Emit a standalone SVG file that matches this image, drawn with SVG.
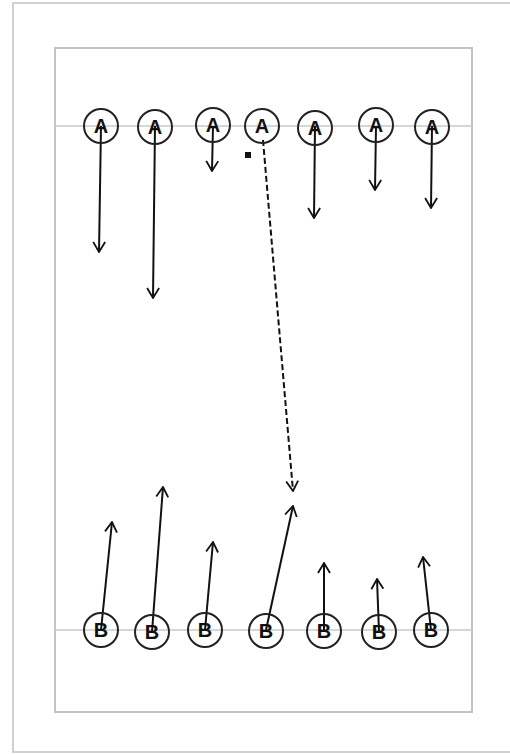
<svg xmlns="http://www.w3.org/2000/svg" width="510" height="754" viewBox="0 0 510 754">
<defs>
<style>
.frame{fill:none;stroke:#d0d0d0;stroke-width:2}
.field{fill:#fff;stroke:#c4c4c4;stroke-width:2}
.yard{stroke:#c8c8c8;stroke-width:1.5}
.node circle{fill:none;stroke:#222;stroke-width:2}
.node text{font-family:"Liberation Sans",Arial,sans-serif;font-size:20px;font-weight:bold;fill:#111;text-anchor:middle}
.route{fill:none;stroke:#111;stroke-width:2}
.dash{stroke-dasharray:6 3}
</style>
<marker id="v" viewBox="0 0 12 14" refX="11" refY="7" markerWidth="12" markerHeight="14" markerUnits="userSpaceOnUse" orient="auto">
<path d="M1,1 L11,7 L1,13" fill="none" stroke="#111" stroke-width="1.8"/>
</marker>
</defs>
<rect x="0" y="0" width="510" height="754" fill="#fff"/>
<rect class="frame" x="13" y="3" width="505" height="749"/>
<rect class="field" x="55" y="48" width="417" height="664"/>
<line class="yard" x1="55" y1="126" x2="472" y2="126"/>
<line class="yard" x1="55" y1="630" x2="472" y2="630"/>
<g id="connectors">
<path class="route" d="M101,126 L99,252" marker-end="url(#v)"/>
<path class="route" d="M155,126 L153,298" marker-end="url(#v)"/>
<path class="route" d="M213,126 L212,171" marker-end="url(#v)"/>
<path class="route dash" d="M263,140 L293,491" marker-end="url(#v)"/>
<path class="route" d="M315,126 L314,218" marker-end="url(#v)"/>
<path class="route" d="M376,126 L375,190" marker-end="url(#v)"/>
<path class="route" d="M432,126 L431,208" marker-end="url(#v)"/>
<path class="route" d="M101,630 L112,522" marker-end="url(#v)"/>
<path class="route" d="M152,632 L163,487" marker-end="url(#v)"/>
<path class="route" d="M205,630 L213,542" marker-end="url(#v)"/>
<path class="route" d="M266,630 L293,506" marker-end="url(#v)"/>
<path class="route" d="M324,630 L324,563" marker-end="url(#v)"/>
<path class="route" d="M379,632 L377,579" marker-end="url(#v)"/>
<path class="route" d="M431,630 L423,557" marker-end="url(#v)"/>
<rect x="245" y="152" width="6" height="6" fill="#111"/>
</g>
<g id="a1" class="node"><circle cx="101" cy="126" r="17"/><text x="101" y="133">A</text></g>
<g id="a2" class="node"><circle cx="155" cy="127" r="17"/><text x="155" y="134">A</text></g>
<g id="a3" class="node"><circle cx="213" cy="125" r="17"/><text x="213" y="132">A</text></g>
<g id="a4" class="node"><circle cx="262" cy="126" r="17"/><text x="262" y="133">A</text></g>
<g id="a5" class="node"><circle cx="315" cy="128" r="17"/><text x="315" y="135">A</text></g>
<g id="a6" class="node"><circle cx="376" cy="125" r="17"/><text x="376" y="132">A</text></g>
<g id="a7" class="node"><circle cx="432" cy="127" r="17"/><text x="432" y="134">A</text></g>
<g id="b1" class="node"><circle cx="101" cy="630" r="17"/><text x="101" y="637">B</text></g>
<g id="b2" class="node"><circle cx="152" cy="632" r="17"/><text x="152" y="639">B</text></g>
<g id="b3" class="node"><circle cx="205" cy="630" r="17"/><text x="205" y="637">B</text></g>
<g id="b4" class="node"><circle cx="266" cy="631" r="17"/><text x="266" y="638">B</text></g>
<g id="b5" class="node"><circle cx="324" cy="631" r="17"/><text x="324" y="638">B</text></g>
<g id="b6" class="node"><circle cx="379" cy="632" r="17"/><text x="379" y="639">B</text></g>
<g id="b7" class="node"><circle cx="431" cy="630" r="17"/><text x="431" y="637">B</text></g>
</svg>
